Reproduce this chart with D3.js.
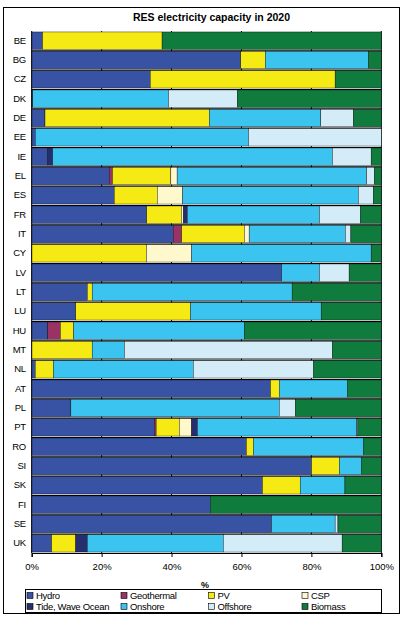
<!DOCTYPE html>
<html><head><meta charset="utf-8">
<script src="https://cdn.jsdelivr.net/npm/d3@7"></script>
<style>
body{margin:0;background:#fff;}
svg text{font-family:"Liberation Sans",Arial,sans-serif;}
</style></head>
<body><svg id="c" width="411" height="622"></svg>
<script>
const categories = ["BE","BG","CZ","DK","DE","EE","IE","EL","ES","FR","IT","CY","LV","LT","LU","HU","MT","NL","AT","PL","PT","RO","SI","SK","FI","SE","UK"];
const hydro      = [3.1,59.8,33.9,0.3,3.8,1.0,4.5,22.2,23.6,32.9,40.5,0,71.5,15.9,12.6,4.6,0,1.0,68.3,11.2,35.1,61.4,80.0,66.0,51.1,68.6,5.7];
const geothermal = [0,0,0,0,0,0,0,0.9,0,0,2.4,0,0,0,0,3.6,0,0,0,0,0.5,0,0,0,0,0,0];
const pv         = [34.2,7.0,52.9,0,47.0,0,0,16.7,12.3,9.9,17.9,32.8,0,1.4,32.8,3.8,17.3,5.2,2.5,0,6.6,2.0,8.0,10.8,0,0,6.9];
const csp        = [0,0,0,0,0,0,0,1.8,7.3,0.6,1.4,12.9,0,0,0,0,0,0,0,0,3.5,0,0,0,0,0,0];
const tide       = [0,0,0,0,0,0,1.5,0,0,1.1,0,0,0,0,0,0,0,0,0,0,1.7,0,0,0,0,0,3.3];
const onshore    = [0,29.5,0,38.8,31.9,61.0,80.0,54.2,50.2,37.8,27.5,51.4,10.8,57.2,37.4,48.8,9.2,40.0,19.5,59.6,45.6,31.6,6.3,12.8,0,18.2,38.9];
const offshore   = [0,0,0,19.7,9.3,38.0,11.1,2.2,4.3,11.7,1.6,0,8.5,0,0,0,59.5,34.4,0,4.6,0.3,0,0,0,0,0.8,34.0];
const biomass    = [62.7,3.7,13.2,41.2,8.0,0,2.9,2.0,2.3,6.0,8.7,2.9,9.2,25.5,17.2,39.2,14.0,19.4,9.7,24.6,6.7,5.0,5.7,10.4,48.9,12.4,11.2];
const xTicks = [0,20,40,60,80,100];

const keys = ["Hydro","Geothermal","PV","CSP","Tide, Wave Ocean","Onshore","Offshore","Biomass"];
const seriesArr = [hydro,geothermal,pv,csp,tide,onshore,offshore,biomass];
const colors = {"Hydro":"#3953a4","Geothermal":"#993366","PV":"#f5ea14","CSP":"#fff8cc","Tide, Wave Ocean":"#252f70","Onshore":"#3bc4f0","Offshore":"#d3ecf8","Biomass":"#0f7c3e"};

const rows = categories.map((c,i)=>{const o={cat:c}; keys.forEach((k,j)=>o[k]=seriesArr[j][i]); return o;});

const svg = d3.select("#c");
// outer frame
svg.append("rect").attr("x",3.5).attr("y",7.5).attr("width",396).attr("height",606).attr("fill","#fff").attr("stroke","#000").attr("stroke-width",1);

const L=31.7, R=381.3, T=31, B=553;
const x = d3.scaleLinear().domain([0,100]).range([L,R]);
const y = d3.scaleBand().domain(categories).range([T,B]).paddingInner(0.1).paddingOuter(0.05);

svg.append("text").attr("x",211.5).attr("y",21).attr("text-anchor","middle")
  .attr("font-size",10.5).attr("font-weight","bold").text("RES electricity capacity in 2020");

// vertical gridlines
svg.append("g").selectAll("line").data(xTicks.slice(1)).join("line")
  .attr("x1",d=>x(d)).attr("x2",d=>x(d)).attr("y1",T).attr("y2",B)
  .attr("stroke","#000").attr("stroke-width",1);

// row separators (dark gaps)
svg.append("g").selectAll("line").data(categories.slice(1)).join("line")
  .attr("x1",L).attr("x2",R)
  .attr("y1",d=>y(d)-y.step()*y.paddingInner()/2+0.5).attr("y2",d=>y(d)-y.step()*y.paddingInner()/2+0.5)
  .attr("stroke","#000").attr("stroke-width",1.2);

const stacked = d3.stack().keys(keys)(rows);
svg.append("g").selectAll("g").data(stacked).join("g")
  .attr("fill",d=>colors[d.key])
  .selectAll("rect").data(d=>d.filter(s=>s[1]-s[0]>0)).join("rect")
  .attr("x",d=>x(d[0])).attr("width",d=>x(d[1])-x(d[0]))
  .attr("y",d=>y(d.data.cat)).attr("height",y.bandwidth())
  .attr("stroke","#000").attr("stroke-width",0.4);

// axes
const xAxis = svg.append("g").attr("transform",`translate(0,${B})`)
  .call(d3.axisBottom(x).tickValues(xTicks).tickFormat(d=>d+"%").tickSize(4).tickPadding(6));
xAxis.select(".domain").attr("stroke","#000").attr("stroke-width",1.2);
xAxis.selectAll("text").attr("font-size",9.5).attr("fill","#000");
xAxis.selectAll("line").attr("stroke","#000");

const yAxis = svg.append("g").attr("transform",`translate(${L},0)`)
  .call(d3.axisLeft(y).tickSize(0).tickPadding(6));
yAxis.select(".domain").attr("stroke","#000").attr("d",`M0,${T}V${B}`);
yAxis.selectAll("text").attr("font-size",9.5).attr("fill","#000").attr("letter-spacing","-0.4");

svg.append("text").attr("x",205).attr("y",588).attr("text-anchor","middle").attr("font-size",9).attr("font-weight","bold").text("%");

// legend
svg.append("rect").attr("x",25.5).attr("y",589.5).attr("width",356).attr("height",23).attr("fill","#fff").attr("stroke","#000").attr("stroke-width",1);
const colX=[27,121,208.5,302];
const lg = svg.append("g").selectAll("g").data(keys).join("g")
  .attr("transform",(d,i)=>`translate(${colX[i%4]},${i<4?592:603})`);
lg.append("rect").attr("width",6).attr("height",6).attr("y",0.5).attr("fill",d=>colors[d]).attr("stroke","#000").attr("stroke-width",0.6);
lg.append("text").attr("x",9).attr("y",7).attr("font-size",9.5).attr("letter-spacing","-0.3").text(d=>d);
</script></body></html>
